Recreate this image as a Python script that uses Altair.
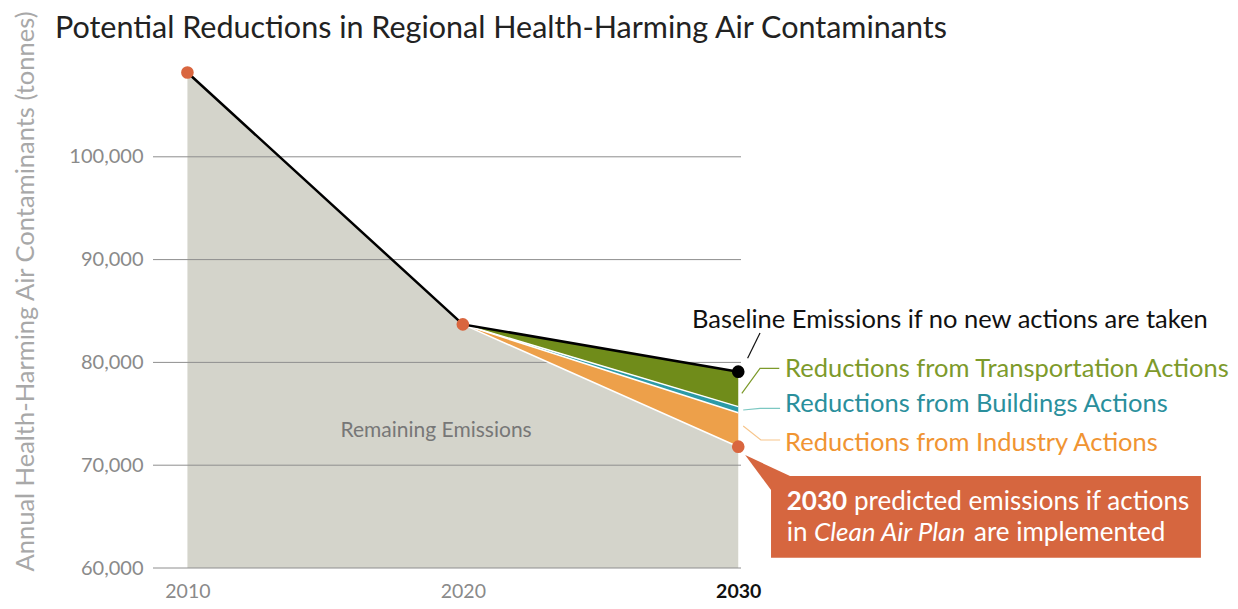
import altair as alt
import pandas as pd

# ---- data ----
years = [2010, 2020, 2030]
baseline = [108200, 83700, 79100]          # baseline emissions (no new actions)
after_transport = [83700, 75700]            # 2020, 2030
after_buildings = [83700, 75100]            # 2020, 2030
remaining = [108200, 83700, 71800]          # remaining emissions with plan
band_years = [2020, 2030]
y_ticks = [60000, 70000, 80000, 90000, 100000]

band_names = ["Transportation", "Buildings", "Industry"]
band_colors = ["#708c1a", "#2b9aa7", "#eda04a"]
text_colors = ["#7d9a2b", "#2a8f9c", "#f09432"]
leader_colors = ["#7d9a2b", "#7cc8c2", "#f7c58c"]

TITLE = "Potential Reductions in Regional Health-Harming Air Contaminants"
FONT = "Lato"
GRAY_TXT = "#8a8a8a"

# ---- tables ----
band_rows = []
tops = [baseline[1:], after_transport, after_buildings]
bottoms = [after_transport, after_buildings, remaining[1:]]
for name, t, b in zip(band_names, tops, bottoms):
    for yr, tv, bv in zip(band_years, t, b):
        band_rows.append({"x": yr, "top": tv, "bottom": bv, "band": name})
bands = pd.DataFrame(band_rows)

sep_rows = []
for name, b in zip(band_names, bottoms):
    for yr, bv in zip(band_years, b):
        sep_rows.append({"x": yr, "y": bv, "band": name})
seps = pd.DataFrame(sep_rows)

remain_df = pd.DataFrame({"x": years, "y": remaining})
base_df = pd.DataFrame({"x": years, "y": baseline})
grid_df = pd.DataFrame({"y": y_ticks})
orange_pts = pd.DataFrame({"x": years, "y": remaining})
black_pt = pd.DataFrame({"x": [2030], "y": [baseline[2]]})

# annotation anchors (data space)
leaders = pd.DataFrame([
    {"seg": "base", "o": 0, "x": 2030.79, "y": 82860, "c": "#111111"},
    {"seg": "base", "o": 1, "x": 2030.34, "y": 80399, "c": "#111111"},
    {"seg": "tr", "o": 0, "x": 2030.13, "y": 76994, "c": leader_colors[0]},
    {"seg": "tr", "o": 1, "x": 2030.79, "y": 79426, "c": leader_colors[0]},
    {"seg": "tr", "o": 2, "x": 2031.49, "y": 79426, "c": leader_colors[0]},
    {"seg": "bu", "o": 0, "x": 2030.18, "y": 75370, "c": leader_colors[1]},
    {"seg": "bu", "o": 1, "x": 2030.79, "y": 75535, "c": leader_colors[1]},
    {"seg": "bu", "o": 2, "x": 2031.52, "y": 75535, "c": leader_colors[1]},
    {"seg": "in", "o": 0, "x": 2030.18, "y": 73813, "c": leader_colors[2]},
    {"seg": "in", "o": 1, "x": 2030.82, "y": 72451, "c": leader_colors[2]},
    {"seg": "in", "o": 2, "x": 2031.52, "y": 72451, "c": leader_colors[2]},
])

labels = pd.DataFrame([
    {"x": 2028.32, "y": 83346, "t": "Baseline Emissions if no new actions are taken", "c": "#111111"},
    {"x": 2031.70, "y": 78609, "t": "Reductions from Transportation Actions", "c": text_colors[0]},
    {"x": 2031.70, "y": 75175, "t": "Reductions from Buildings Actions", "c": text_colors[1]},
    {"x": 2031.70, "y": 71410, "t": "Reductions from Industry Actions", "c": text_colors[2]},
])

title_df = pd.DataFrame({"x": [2005.19], "y": [111527], "t": [TITLE]})
pointer = pd.DataFrame({"x": [2030.25, 2031.88], "y": [70992, 68949], "y2": [70992, 65097]})
box = pd.DataFrame({"x": [2031.19], "x2": [2046.80], "y": [68949], "y2": [61002]})
box_bold = pd.DataFrame({"x": [2031.76], "y": [65642], "t": ["2030"]})
box_norm = pd.DataFrame({"x": [2034.20, 2031.76, 2038.56], "y": [65642, 62656, 62656],
                         "t": ["predicted emissions if actions", "in", "are implemented"]})
box_ital = pd.DataFrame({"x": [2032.75], "y": [62656], "t": ["Clean Air Plan"]})
remain_lbl = pd.DataFrame({"x": [2019.03], "y": [73327], "t": ["Remaining Emissions"]})

# ---- shared scales / axes ----
xscale = alt.Scale(domain=[2008.75, 2030.1], nice=False, zero=False)
yscale = alt.Scale(domain=[60000, 110000], nice=False, zero=False)
xaxis = alt.Axis(values=years, format="d", title=None, ticks=False, domain=False, grid=False,
                 labelFontSize=19.5, labelFont=FONT, labelPadding=29, labelBaseline="alphabetic",
                 labelColor={"expr": "datum.value == 2030 ? '#111111' : '#8a8a8a'"},
                 labelFontWeight={"expr": "datum.value == 2030 ? 'bold' : 'normal'"})
yaxis = alt.Axis(values=y_ticks, format=",d", ticks=False, domain=False, grid=False,
                 labelFontSize=20, labelFont=FONT, labelColor=GRAY_TXT, labelPadding=10,
                 title="Annual Health-Harming Air Contaminants (tonnes)",
                 titleFontSize=25.5, titleFont=FONT, titleFontWeight="normal",
                 titleColor="#a8a8a8", titleAngle=-90, titleAlign="center",
                 titleBaseline="alphabetic", titleX=-120, titleY=237)


def X(f):
    return alt.X(f"{f}:Q", scale=xscale, axis=xaxis)


def Y(f):
    return alt.Y(f"{f}:Q", scale=yscale, axis=yaxis)


gray_area = alt.Chart(remain_df).mark_area(color="#d4d4cb", opacity=1).encode(
    x=X("x"), y=Y("y"), y2=alt.datum(60000))

grid = alt.Chart(grid_df).mark_rule(color="#8e8e8e", strokeWidth=1).encode(y=Y("y"))

band_area = alt.Chart(bands).mark_area(opacity=1).encode(
    x=X("x"), y=Y("top"), y2="bottom:Q",
    color=alt.Color("band:N", scale=alt.Scale(domain=band_names, range=band_colors), legend=None))

sep_lines = alt.Chart(seps).mark_line(color="white", strokeWidth=1.5).encode(
    x=X("x"), y=Y("y"), detail="band:N")

base_line = alt.Chart(base_df).mark_line(color="#000000", strokeWidth=2.5).encode(
    x=X("x"), y=Y("y"))

leader_lines = alt.Chart(leaders).mark_line(strokeWidth=1.2).encode(
    x=X("x"), y=Y("y"), detail="seg:N", order="o:Q", color=alt.Color("c:N", scale=None))

pts_orange = alt.Chart(orange_pts).mark_circle(size=160, color="#d9663f", opacity=1).encode(
    x=X("x"), y=Y("y"))
pt_black = alt.Chart(black_pt).mark_circle(size=160, color="#000000", opacity=1).encode(
    x=X("x"), y=Y("y"))

label_txt = alt.Chart(labels).mark_text(align="left", baseline="alphabetic", fontSize=25.5, font=FONT).encode(
    x=X("x"), y=Y("y"), text="t:N", color=alt.Color("c:N", scale=None))

title_txt = alt.Chart(title_df).mark_text(align="left", baseline="alphabetic", fontSize=30.5, font=FONT,
                                          color="#222222").encode(
    x=X("x"), y=Y("y"), text="t:N")

remain_txt = alt.Chart(remain_lbl).mark_text(align="center", baseline="middle", fontSize=21,
                                             font=FONT, color="#777777").encode(
    x=X("x"), y=Y("y"), text="t:N")

pointer_area = alt.Chart(pointer).mark_area(color="#d6663f", opacity=1).encode(
    x=X("x"), y=Y("y"), y2="y2:Q")
box_rect = alt.Chart(box).mark_rect(color="#d6663f", opacity=1).encode(
    x=X("x"), x2="x2:Q", y=Y("y"), y2="y2:Q")
box_t1 = alt.Chart(box_bold).mark_text(align="left", baseline="alphabetic", fontSize=26, font=FONT,
                                       fontWeight="bold", color="white").encode(
    x=X("x"), y=Y("y"), text="t:N")
box_t2 = alt.Chart(box_norm).mark_text(align="left", baseline="alphabetic", fontSize=26, font=FONT,
                                       color="white").encode(
    x=X("x"), y=Y("y"), text="t:N")
box_t3 = alt.Chart(box_ital).mark_text(align="left", baseline="alphabetic", fontSize=26, font=FONT,
                                       fontStyle="italic", color="white").encode(
    x=X("x"), y=Y("y"), text="t:N")

chart = alt.layer(
    gray_area, grid, band_area, sep_lines, base_line, leader_lines,
    pointer_area, box_rect, pts_orange, pt_black,
    label_txt, title_txt, remain_txt, box_t1, box_t2, box_t3
).properties(
    width=588, height=514,
    autosize="none",
    padding={"left": 145, "top": 46, "right": 489, "bottom": 33},
).configure_view(stroke=None)

chart.save("out.html", embed_options={"renderer": "svg", "actions": False})
